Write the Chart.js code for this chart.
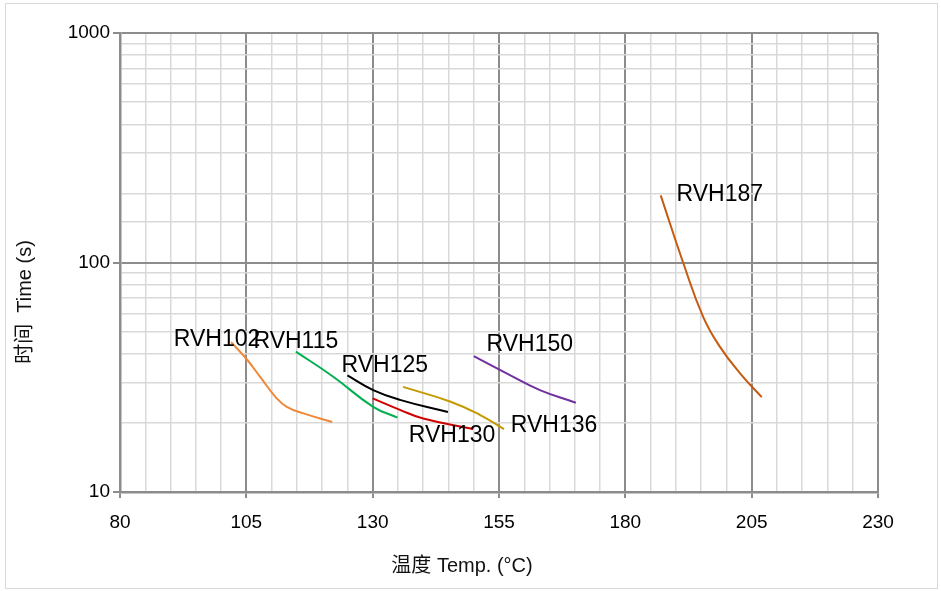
<!DOCTYPE html>
<html lang="zh">
<head>
<meta charset="UTF-8">
<title>RVH Time vs Temp</title>
<script src="https://cdn.jsdelivr.net/npm/chart.js"></script>
<style>
  html, body { margin: 0; padding: 0; background: #fff; }
  #wrap { width: 941px; height: 591px; }
</style>
</head>
<body>
<div id="wrap"><canvas id="myChart" width="941" height="591"></canvas></div>
<script>
// values (temperature in °C, time in s)
const seriesNames = ['RVH102', 'RVH115', 'RVH125', 'RVH130', 'RVH136', 'RVH150', 'RVH187'];
const seriesColors = ['#F0883A', '#00B050', '#000000', '#D00000', '#C49A00', '#7030A0', '#C55A11'];

const rvh102Temp = [102, 105.2, 107.7, 111, 113, 116.3, 122];
const rvh102Time = [45, 37.6, 31.8, 25.6, 23.5, 22.0, 20.2];
const rvh115Temp = [114.8, 122.2, 130.1, 134.9];
const rvh115Time = [40.9, 31.8, 23.5, 21.1];
const rvh125Temp = [125, 130.1, 135.4, 144.9];
const rvh125Time = [32.2, 27.8, 25.2, 22.3];
const rvh130Temp = [130, 135.4, 140, 149.9];
const rvh130Time = [25.6, 22.8, 20.9, 18.8];
const rvh136Temp = [136, 145.3, 151.2, 156];
const rvh136Time = [28.7, 24.8, 21.7, 18.8];
const rvh150Temp = [150, 156.5, 163.1, 170.2];
const rvh150Time = [39.1, 32.9, 27.8, 24.5];
const rvh187Temp = [187, 191.5, 195.4, 198.7, 202.7, 207];
const rvh187Time = [196, 99, 58, 43, 32.9, 25.9];

// where each series name is written (data units)
const labelTemp = [99.2, 114.8, 132.4, 145.7, 165.9, 161.1, 198.7];
const labelTime = [45.9, 45.0, 35.6, 17.6, 19.4, 43.7, 197];

const xTickLabels = [80, 105, 130, 155, 180, 205, 230];
const yTickLabels = [10, 100, 1000];

const temps = [rvh102Temp, rvh115Temp, rvh125Temp, rvh130Temp, rvh136Temp, rvh150Temp, rvh187Temp];
const times = [rvh102Time, rvh115Time, rvh125Time, rvh130Time, rvh136Time, rvh150Time, rvh187Time];

const FONT = '"Liberation Sans", Arial, "Noto Sans CJK SC", sans-serif';
const MAJOR = '#8c8c8c';
const MINOR = '#d9d9d9';

const datasets = seriesNames.map((name, i) => ({
    label: name,
    data: temps[i].map((t, j) => ({x: t, y: times[i][j]})),
    borderColor: seriesColors[i],
    backgroundColor: seriesColors[i],
    borderWidth: 2,
    pointRadius: 0,
    showLine: true,
    tension: 0.45,
    fill: false
}));

const annotatePlugin = {
    id: 'annotate',
    beforeDraw(chart) {
        const ctx = chart.ctx;
        ctx.save();
        ctx.fillStyle = '#fff';
        ctx.fillRect(0, 0, chart.width, chart.height);
        ctx.strokeStyle = MINOR;
        ctx.lineWidth = 1;
        ctx.strokeRect(5.5, 3.5, 932, 585);
        ctx.restore();
    },
    afterDatasetsDraw(chart) {
        const {ctx, scales} = chart;
        ctx.save();
        ctx.fillStyle = '#000';
        ctx.font = '23px ' + FONT;
        ctx.textAlign = 'center';
        ctx.textBaseline = 'middle';
        seriesNames.forEach((name, i) => {
            ctx.fillText(name, scales.x.getPixelForValue(labelTemp[i]), scales.y.getPixelForValue(labelTime[i]));
        });
        // axis titles
        ctx.font = '20px ' + FONT;
        ctx.fillStyle = '#111';
        ctx.fillText('温度 Temp. (°C)', 462, 566);
        ctx.translate(25, 302);
        ctx.rotate(-Math.PI / 2);
        ctx.fillText('时间  Time (s)', 0, 0);
        ctx.restore();
    }
};

const ctx = document.getElementById('myChart').getContext('2d');
const myChart = new Chart(ctx, {
    type: 'scatter',
    data: { datasets: datasets },
    options: {
        responsive: false,
        animation: false,
        layout: { padding: { left: 0, top: 33, right: 63, bottom: 0 } },
        plugins: {
            legend: { display: false },
            tooltip: { enabled: false }
        },
        scales: {
            x: {
                type: 'linear',
                min: 80,
                max: 230,
                afterFit: s => { s.height = 99; },
                afterBuildTicks: s => {
                    s.ticks = [];
                    for (let v = 80; v <= 230; v += 5) s.ticks.push({value: v});
                },
                ticks: {
                    autoSkip: false,
                    maxRotation: 0,
                    padding: 13,
                    color: '#000',
                    font: { family: FONT, size: 19 },
                    callback: v => xTickLabels.includes(v) ? String(v) : ''
                },
                grid: {
                    color: c => xTickLabels.includes(c.tick.value) ? MAJOR : MINOR,
                    lineWidth: c => xTickLabels.includes(c.tick.value) ? 2 : 1.5,
                    tickColor: c => xTickLabels.includes(c.tick.value) ? MAJOR : 'rgba(0,0,0,0)',
                    tickLength: 6
                },
                border: { color: MAJOR, width: 2.5 }
            },
            y: {
                type: 'logarithmic',
                min: 10,
                max: 1000,
                afterFit: s => { s.width = 120; },
                ticks: {
                    autoSkip: false,
                    padding: 3,
                    color: '#000',
                    font: { family: FONT, size: 19 },
                    callback: v => yTickLabels.includes(v) ? String(v) : ''
                },
                grid: {
                    color: c => yTickLabels.includes(c.tick.value) ? MAJOR : MINOR,
                    lineWidth: c => yTickLabels.includes(c.tick.value) ? 2 : 1.5,
                    tickColor: c => yTickLabels.includes(c.tick.value) ? MAJOR : 'rgba(0,0,0,0)',
                    tickLength: 7
                },
                border: { color: MAJOR, width: 2.5 }
            }
        }
    },
    plugins: [annotatePlugin]
});
</script>
</body>
</html>
